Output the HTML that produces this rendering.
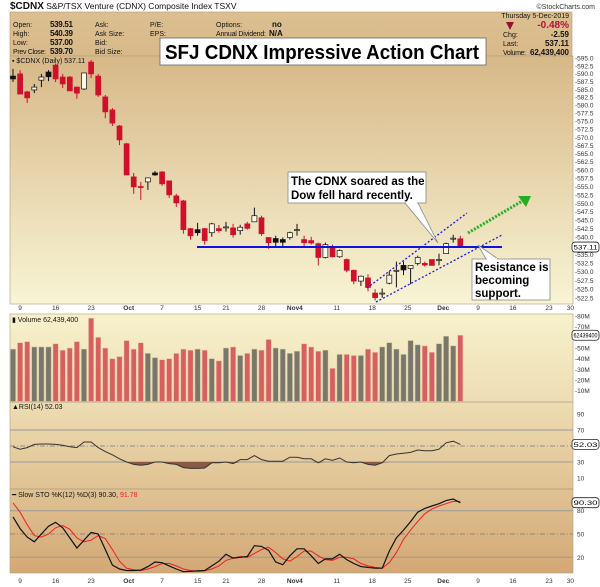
<!DOCTYPE html>
<html><head><meta charset="utf-8"><style>
html,body{margin:0;padding:0;background:#fff;width:600px;height:587px;overflow:hidden}
svg{display:block;font-family:"Liberation Sans",sans-serif}
</style></head><body>
<svg id="c" width="600" height="587" viewBox="0 0 600 587">
<defs>
<linearGradient id="gp" x1="0" y1="0" x2="0" y2="1"><stop offset="0" stop-color="#d7b888"/><stop offset="1" stop-color="#f8f4d4"/></linearGradient>
<linearGradient id="gl" x1="0" y1="0" x2="0" y2="1"><stop offset="0" stop-color="#f7f1cc"/><stop offset="0.35" stop-color="#eddcb2"/><stop offset="1" stop-color="#d3a875"/></linearGradient>
<linearGradient id="gh" x1="0" y1="0" x2="0" y2="1"><stop offset="0" stop-color="#dcbf90"/><stop offset="1" stop-color="#d8b98a"/></linearGradient>
</defs>
<rect x="10" y="12" width="562" height="44" fill="url(#gh)" stroke="#b89a70" stroke-width="0.6"/>
<rect x="10" y="56" width="563" height="248" fill="url(#gp)" stroke="#b0a080" stroke-width="0.6"/>
<rect x="10" y="314" width="563" height="259" fill="url(#gl)" stroke="#b0a080" stroke-width="0.6"/>
<line x1="10" y1="402" x2="573" y2="402" stroke="#a89880" stroke-width="0.8"/>
<line x1="10" y1="489" x2="573" y2="489" stroke="#a89880" stroke-width="0.8"/>
<g id="hdr" font-size="7" fill="#111">
<text x="10" y="9" font-size="8.5"><tspan font-weight="bold" font-size="10">$CDNX</tspan> S&amp;P/TSX Venture (CDNX) Composite Index  TSXV</text>
<text x="595" y="9" text-anchor="end" font-size="7" fill="#333">©StockCharts.com</text>
<text x="13" y="27">Open:</text><text x="50" y="27" font-weight="bold" font-size="8" textLength="23">539.51</text>
<text x="13" y="36">High:</text><text x="50" y="36" font-weight="bold" font-size="8" textLength="23">540.39</text>
<text x="13" y="45">Low:</text><text x="50" y="45" font-weight="bold" font-size="8" textLength="23">537.00</text>
<text x="13" y="54" textLength="33">Prev Close:</text><text x="50" y="54" font-weight="bold" font-size="8" textLength="23">539.70</text>
<text x="95" y="27">Ask:</text><text x="95" y="36">Ask Size:</text><text x="95" y="45">Bid:</text><text x="95" y="54">Bid Size:</text>
<text x="150" y="27">P/E:</text><text x="150" y="36">EPS:</text>
<text x="216" y="27">Options:</text><text x="272" y="27" font-weight="bold" font-size="8">no</text>
<text x="216" y="36" textLength="50">Annual Dividend:</text><text x="269" y="36" font-weight="bold" font-size="8">N/A</text>
<text x="569" y="18" text-anchor="end">Thursday  5-Dec-2019</text>
<polygon points="506,22 514,22 510,30" fill="#9a1030"/>
<text x="569" y="28" text-anchor="end" font-size="10" font-weight="bold" fill="#b01040">-0.48%</text>
<text x="503" y="37">Chg:</text><text x="569" y="37" text-anchor="end" font-weight="bold" font-size="8">-2.59</text>
<text x="503" y="46">Last:</text><text x="569" y="46" text-anchor="end" font-weight="bold" font-size="8">537.11</text>
<text x="503" y="55" textLength="23">Volume:</text><text x="530" y="55" font-weight="bold" font-size="8" textLength="39">62,439,400</text>
<text x="12" y="63" font-size="7">▪ $CDNX (Daily) 537.11</text>
<text x="12" y="322" font-size="7">▮ Volume 62,439,400</text>
<text x="12" y="409" font-size="7">▲RSI(14) 52.03</text>
<text x="12" y="497" font-size="7">━ Slow STO %K(12) %D(3) 90.30, <tspan fill="#e02020">91.78</tspan></text>
</g>
<g id="grid"></g>
<g id="marks"></g>
<g id="ann">
<line x1="197" y1="247" x2="502" y2="247" stroke="#1010e0" stroke-width="2"/>
<line x1="367" y1="288" x2="467" y2="213" stroke="#1a1ae8" stroke-width="1.3" stroke-dasharray="2,2"/>
<line x1="376" y1="302" x2="502" y2="235" stroke="#1a1ae8" stroke-width="1.3" stroke-dasharray="2,2"/>
<line x1="468" y1="233" x2="524" y2="200" stroke="#22b022" stroke-width="3" stroke-dasharray="2,1.5"/>
<polygon points="531,196 518,196 526,207" fill="#22b022"/>
<rect x="160" y="38" width="326" height="27" fill="#fff" stroke="#666" stroke-width="0.8"/>
<text x="165" y="59" font-size="20" font-weight="bold" fill="#000" textLength="314" lengthAdjust="spacingAndGlyphs">SFJ CDNX Impressive Action Chart</text>
<polygon points="405,203 418,203 438,243" fill="#fff" stroke="#888" stroke-width="0.8"/>
<rect x="288" y="172" width="138" height="31" fill="#fff" stroke="#888" stroke-width="0.8"/>
<line x1="406" y1="203" x2="417" y2="203" stroke="#fff" stroke-width="1.5"/>
<text x="291" y="185" font-size="11.5" font-weight="bold">The CDNX soared as the</text>
<text x="291" y="199" font-size="11.5" font-weight="bold">Dow fell hard recently.</text>
<polygon points="478,245 486,259 498,259" fill="#fff" stroke="#888" stroke-width="0.8"/>
<rect x="472" y="259" width="78" height="41" fill="#fff" stroke="#888" stroke-width="0.8"/>
<line x1="487" y1="259" x2="497" y2="259" stroke="#fff" stroke-width="1.5"/>
<text x="475" y="271" font-size="11.5" font-weight="bold">Resistance is</text>
<text x="475" y="284" font-size="11.5" font-weight="bold">becoming</text>
<text x="475" y="297" font-size="11.5" font-weight="bold">support.</text>
</g>
</svg>
<script>
const opens=[589.2,589.9,584.2,584.8,587.9,590.5,592.7,588.9,588.9,585.7,585.1,593.7,589.2,582.6,578.5,573.5,568.0,557.9,555.0,556.4,559.1,559.4,556.7,552.2,550.7,542.5,542.2,542.5,541.3,542.5,542.9,542.7,541.9,543.9,544.5,545.7,539.9,539.6,539.3,539.9,542.1,539.3,539.0,538.1,534.1,536.9,534.3,533.5,530.4,527.3,528.2,523.9,523.8,526.7,530.3,531.8,530.9,532.4,532.4,533.5,533.4,535.2,539.6,539.51];
const highs=[591.5,591.1,584.5,586.7,589.9,591.1,593.2,589.9,589.2,585.9,590.2,594.4,589.9,583.2,579.1,573.8,568.3,559.1,556.4,557.6,559.7,559.7,556.7,552.8,551.0,542.7,544.2,542.7,544.2,543.6,544.5,543.9,543.6,544.5,548.7,546.3,539.9,540.4,539.9,541.6,543.9,540.4,540.1,538.4,538.4,537.8,536.4,533.8,530.6,528.9,529.3,525.0,525.2,530.1,532.9,532.9,531.8,534.6,532.9,533.5,535.2,538.4,540.7,540.39];
const lows=[587.3,583.5,580.7,583.8,585.7,587.6,587.3,585.4,584.5,582.0,584.8,588.6,582.6,575.9,573.5,567.6,558.5,552.8,551.0,554.0,558.2,555.2,551.6,548.9,541.0,539.3,540.4,537.8,540.1,541.3,541.6,539.9,540.7,542.2,544.5,540.4,536.6,536.9,536.9,539.3,540.4,537.2,537.8,531.8,533.8,534.1,534.0,529.8,526.4,525.9,524.4,521.8,522.6,526.4,525.5,529.0,526.4,531.8,531.5,531.8,531.8,535.2,538.4,537.0];
const closes=[588.3,583.5,582.3,585.7,588.9,589.0,588.3,586.7,584.5,583.8,590.2,589.9,583.2,577.9,574.4,569.2,558.5,554.9,554.8,557.6,558.5,555.8,552.5,550.1,542.2,540.4,541.3,539.0,543.9,541.9,543.0,540.7,542.9,542.6,546.3,541.0,538.4,538.5,538.5,541.3,542.2,538.4,538.3,534.1,537.8,534.3,536.1,530.4,527.3,528.7,525.5,522.6,523.9,529.0,530.4,530.5,531.8,534.1,531.9,531.8,533.5,538.1,539.7,537.11];
const volumes=[49,55,56,51,51,51,54,48,50,56,49,78,60,50,40,42,57,49,55,45,41,39,40,45,49,48,49,48,40,38,50,51,43,45,49,48,58,50,49,45,47,54,51,47,48,31,44,44,43,43,49,46,51,55,49,44,57,53,52,46,54,61,52,62];
const rsi=[49,46,48,52,52.5,52.5,52,51,49,48,55,55,48,43,39,34,30,27,26,27,30,30,28,27,23,22,22,22.5,29,29,30,28,33,33,38,33,31,31,31,36,36,34,34,29,34,32,35,30,29,30,27,26,29,38,40,41,42,45,44,44,46,54,56,52.03];
const stoK=[72,57,46,40,50,60,65,58,45,32,42,52,50,30,10,5,3,3,3.5,8,14,13,9,5,1.5,2,2.5,3,9,15,24,19,20,21,35,34,29,14,10.5,22,31,31,22,12,18,18,24,17,12,8,7,6,6,28,45,55,66,78,83,86,89,93,95,90.3];
const stoD=[90,78,62,48,46,50,58,61,56,45,40,42,48,44,30,15,6,4,3,5,8,12,12,9,5,3,2,2.5,5,9,16,19,21,20,25,30,33,26,18,15,21,28,28,22,17,16,20,20,18,12,9,7,6,13,26,43,55,66,76,82,86,89,92,91.78];
const dateLabels=["9","16","23","Oct","7","15","21","28","Nov4","11","18","25","Dec","9","16","23","30"];
const dateIdx=[1,6,11,16.3,21,26,30,35,39.7,45.6,50.6,55.6,60.6,65.5,70.4,75.5,78.5];
const priceTicks=[595,592.5,590,587.5,585,582.5,580,577.5,575,572.5,570,567.5,565,562.5,560,557.5,555,552.5,550,547.5,545,542.5,540,537.5,535,532.5,530,527.5,525,522.5];
const volTicks=[80,70,60,50,40,30,20,10];
const rsiTicks=[90,70,30,10];
const stoTicks=[80,50,20];

const NS="http://www.w3.org/2000/svg";
const marks=document.getElementById('marks'), grid=document.getElementById('grid');
function mk(tag,attrs,parent){const e=document.createElementNS(NS,tag);for(const k in attrs)e.setAttribute(k,attrs[k]);(parent||marks).appendChild(e);return e;}
const xAt=i=>13+i*7.1;
const yP=v=>58+1847*Math.log(595/v);
const yV=v=>401.4-v*1.067;
const yR=v=>446-(v-50)*0.8;
const yS=v=>534-(v-50)*0.777;

priceTicks.forEach((t,k)=>{const e=mk('text',{x:575,y:yP(t)+2.5,'font-size':6.5,fill:'#333'},grid);e.textContent='-'+t.toFixed(1);

});
volTicks.forEach(t=>{const e=mk('text',{x:575,y:yV(t)+2.5,'font-size':6.5,fill:'#333'},grid);e.textContent='-'+t+'M';

});
rsiTicks.forEach(t=>{const e=mk('text',{x:577,y:yR(t)+2.5,'font-size':6.5,fill:'#333'},grid);e.textContent=t;

});
stoTicks.forEach(t=>{const e=mk('text',{x:577,y:yS(t)+2.5,'font-size':6.5,fill:'#333'},grid);e.textContent=t;

});
[[70,0],[30,0],[50,1]].forEach(([v,d])=>mk('line',{x1:10,x2:573,y1:yR(v),y2:yR(v),stroke:d?'#777':'#999',"stroke-width":d?0.7:1,"stroke-dasharray":d?'5,2,1,2':'none'},grid));
[[80,0],[20,0],[50,1]].forEach(([v,d])=>mk('line',{x1:10,x2:573,y1:yS(v),y2:yS(v),stroke:d?'#777':'#999',"stroke-width":d?0.7:1,"stroke-dasharray":d?'5,2,1,2':'none'},grid));
dateLabels.forEach((l,k)=>{[310,583].forEach(yy=>{const e=mk('text',{x:xAt(dateIdx[k]),y:yy,'font-size':6.5,fill:'#333','text-anchor':'middle','font-weight':(l==='Oct'||l==='Dec'||l==='Nov4')?'bold':'normal'},grid);e.textContent=l;

});});

closes.forEach((c,i)=>{const o=opens[i],x=xAt(i);const prev=i?closes[i-1]:c;const col=c<prev?'#d0102a':'#111';
const w=mk('line',{x1:x,x2:x,y1:yP(highs[i]),y2:yP(lows[i]),stroke:col,'stroke-width':1});


const top=yP(Math.max(o,c)),bot=yP(Math.min(o,c));const h=Math.max(bot-top,1);
const b=mk('rect',{x:x-2.5,y:top,width:5,height:h,fill:c<o?col:'#fff8e8',stroke:col,'stroke-width':0.7});

});
volumes.forEach((v,i)=>{const red=i>0&&closes[i]<closes[i-1];
const r=mk('rect',{x:xAt(i)-2.6,y:yV(v),width:5.2,height:401.4-yV(v),fill:red?'#d66060':'#79766a',stroke:red?'#f2c0a0':'#c8c0a0','stroke-width':0.5});

});
let fp='';rsi.forEach((v,i)=>{fp+=(i?'L':'M')+xAt(i)+','+Math.max(yR(v),yR(30));});
fp+='L'+xAt(rsi.length-1)+','+yR(30)+'L'+xAt(0)+','+yR(30)+'Z';
const rf=mk('path',{d:fp,fill:'#8b5a44'});


const line=(arr,f,col,w,name)=>{const p=mk('path',{d:arr.map((v,i)=>(i?'L':'M')+xAt(i).toFixed(1)+','+f(v).toFixed(1)).join(''),fill:'none',stroke:col,'stroke-width':w});

};
line(rsi,yR,'#333',1,'rsi-line');
line(stoD,yS,'#ee2020',1,'sto-d-line');
line(stoK,yS,'#111',1.2,'sto-k-line');
function vbox(y,t,name){const g=mk('g',{},grid);mk('rect',{x:572,y:y-5,width:27,height:10,rx:3,fill:'#fff',stroke:'#222','stroke-width':0.8},g);const e=mk('text',{x:585.5,y:y+2.5,'font-size':6.5,'text-anchor':'middle',fill:'#000',textLength:24,lengthAdjust:'spacingAndGlyphs'},g);e.textContent=t;

}
vbox(yP(closes[closes.length-1]),closes[closes.length-1].toFixed(2),'last-price-box');
vbox(yV(volumes[volumes.length-1]),'62439400','last-volume-box');
vbox(yR(rsi[rsi.length-1]),rsi[rsi.length-1].toFixed(2),'last-rsi-box');
vbox(yS(stoK[stoK.length-1]),stoK[stoK.length-1].toFixed(2),'last-sto-box');
</script>
</body></html>
